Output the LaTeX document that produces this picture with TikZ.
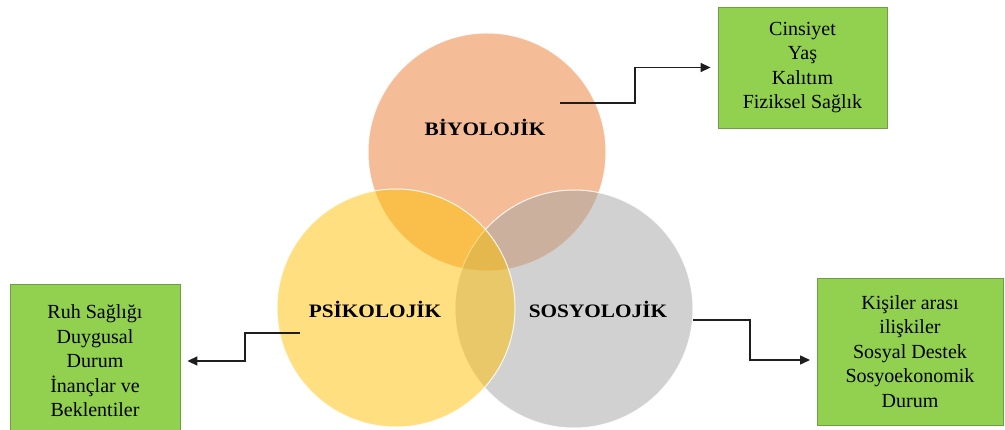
\documentclass[tikz,border=0pt]{standalone}
\usepackage{fontspec}
\setmainfont{Liberation Serif}
\usetikzlibrary{arrows.meta}

\definecolor{bioC}{HTML}{ED7D31}
\definecolor{psyC}{HTML}{FFC000}
\definecolor{socC}{HTML}{A5A5A5}
\definecolor{boxFill}{HTML}{92D050}
\definecolor{boxLine}{HTML}{6F9C45}
\definecolor{linkC}{HTML}{1E1E1E}

\tikzset{
  venn/.style={circle, minimum size=238pt, inner sep=0pt, fill opacity=0.5,
               draw=white, draw opacity=0.85, line width=1pt},
  vlabel/.style={font=\fontsize{19}{22}\selectfont\bfseries, text=black},
  infobox/.style={draw=boxLine, line width=0.8pt, fill=boxFill, align=center,
                  font=\fontsize{20}{24.5}\selectfont, text=black, inner sep=0pt},
  link/.style={draw=linkC, line width=1.5pt,
               -{Triangle[length=10pt,width=9pt]}, shorten >=7pt}
}

\begin{document}
\begin{tikzpicture}[x=1pt,y=-1pt]
\useasboundingbox (0,0) rectangle (1005,430);
\fill[white] (0,0) rectangle (1005,430);

% three overlapping factor circles
\node[venn, fill=bioC] (bio) at (487,152) {};
\node[venn, fill=socC] (soc) at (574,309) {};
\node[venn, fill=psyC] (psy) at (396,308) {};

\node[vlabel, anchor=base] (bioT) at (485,136) {\scalebox{1.12}[1]{BİYOLOJİK}};
\node[vlabel, anchor=base] (psyT) at (375,318) {\scalebox{1.12}[1]{PSİKOLOJİK}};
\node[vlabel, anchor=base] (socT) at (598,318) {\scalebox{1.12}[1]{SOSYOLOJİK}};

% detail boxes
\node[infobox, minimum width=169pt, minimum height=121pt] (bioBox) at (802.5,67.5)
  {Cinsiyet\\Yaş\\Kalıtım\\Fiziksel Sağlık};
\node[infobox, minimum width=170pt, minimum height=154pt] (psyBox) at (95,361)
  {Ruh Sağlığı\\Duygusal\\Durum\\İnançlar ve\\Beklentiler};
\node[infobox, minimum width=186pt, minimum height=147pt] (socBox) at (910,351.5)
  {Kişiler arası\\ilişkiler\\Sosyal Destek\\Sosyoekonomik\\Durum};

% connector end points inside the circles
\coordinate (bioOut) at (560,103);
\coordinate (psyOut) at (300,333);
\coordinate (socOut) at (693,320);
\coordinate (socIn) at (817,360);

\draw[link] (bioOut) -- (635,103) -- (635,67.5) -- (bioBox.west);
\draw[link] (psyOut) -- (245,333) -- (245,361) -- (psyBox.east);
\draw[link] (socOut) -- (750,320) -- (750,360) -- (socIn);
\end{tikzpicture}
\end{document}
